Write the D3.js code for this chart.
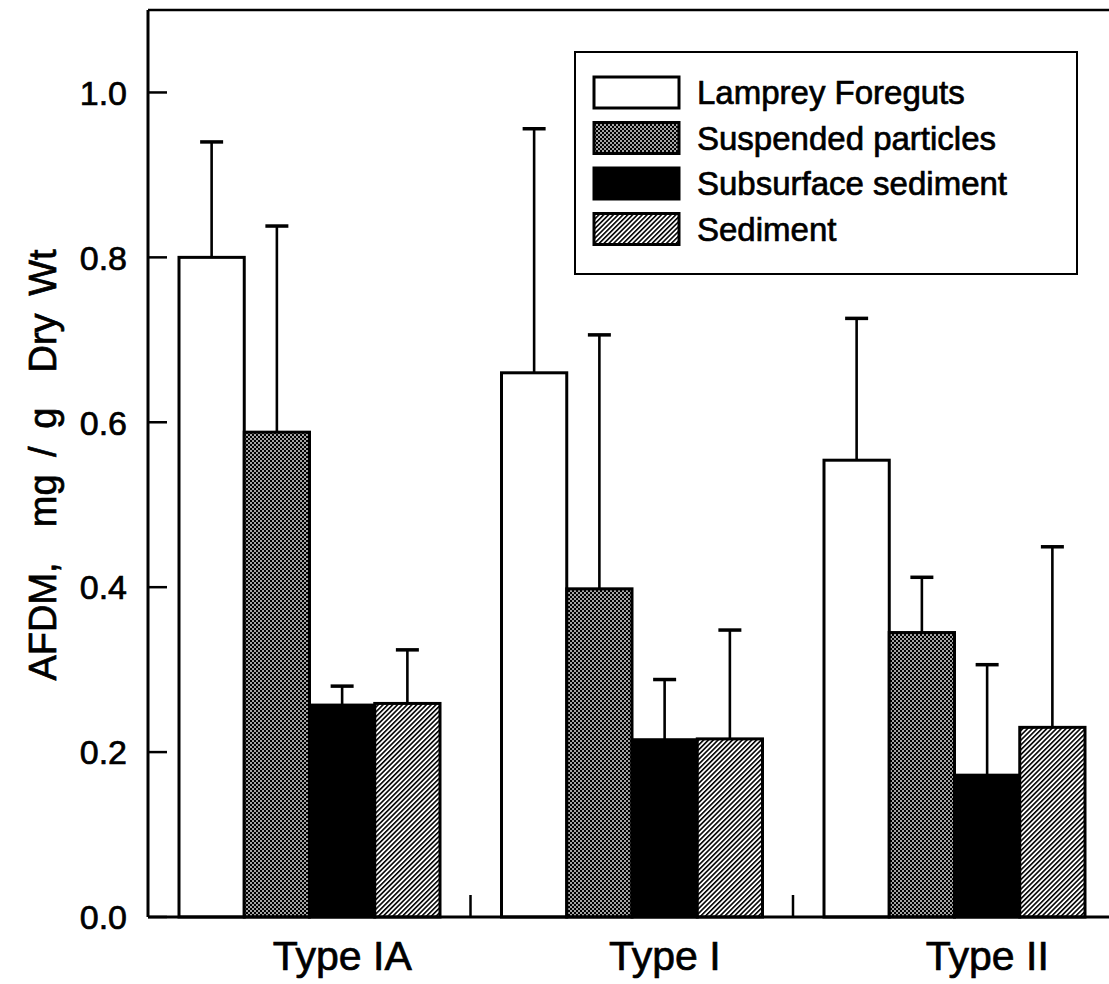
<!DOCTYPE html>
<html>
<head>
<meta charset="utf-8">
<script src="https://cdn.jsdelivr.net/npm/d3@7"></script>
<style>
  html, body { margin: 0; padding: 0; background: #fff; }
  svg { display: block; font-family: "Liberation Sans", Arial, sans-serif; }
  text { stroke: #000; stroke-width: 0.7px; }
</style>
</head>
<body>
<svg id="chart" width="1109" height="984"></svg>
<script>
// ---- data ----
const categories = ["Type IA", "Type I", "Type II"];
const seriesNames = ["Lamprey Foreguts", "Suspended particles", "Subsurface sediment", "Sediment"];
const lampreyMean = [0.800, 0.660, 0.554];
const lampreyErr  = [0.940, 0.956, 0.726];
const suspendedMean = [0.588, 0.398, 0.345];
const suspendedErr  = [0.838, 0.706, 0.412];
const subsurfaceMean = [0.257, 0.215, 0.172];
const subsurfaceErr  = [0.280, 0.288, 0.306];
const sedimentMean = [0.259, 0.216, 0.230];
const sedimentErr  = [0.324, 0.348, 0.449];
const yTicks = [0.0, 0.2, 0.4, 0.6, 0.8, 1.0];
const yLabel = "AFDM,  mg / g  Dry Wt";

const means = [lampreyMean, suspendedMean, subsurfaceMean, sedimentMean];
const errs = [lampreyErr, suspendedErr, subsurfaceErr, sedimentErr];
const fills = ["#fff", "url(#dots)", "#000", "url(#hatch)"];

const svg = d3.select("#chart");
const L = 148, T = 10, B = 917, groupW = 322.5;
const R = L + groupW * categories.length;

// patterns
const defs = svg.append("defs");
const dots = defs.append("pattern").attr("id", "dots").attr("patternUnits", "userSpaceOnUse")
  .attr("width", 4).attr("height", 4);
dots.append("rect").attr("width", 4).attr("height", 4).attr("fill", "#000");
dots.append("rect").attr("x", 0.2).attr("y", 0.2).attr("width", 1.6).attr("height", 1.6).attr("fill", "#fff");
dots.append("rect").attr("x", 2.2).attr("y", 2.2).attr("width", 1.6).attr("height", 1.6).attr("fill", "#fff");
const hatch = defs.append("pattern").attr("id", "hatch").attr("patternUnits", "userSpaceOnUse")
  .attr("width", 3.4).attr("height", 10).attr("patternTransform", "rotate(45)");
hatch.append("rect").attr("width", 3.4).attr("height", 10).attr("fill", "#fff");
hatch.append("line").attr("x1", 0.8).attr("x2", 0.8).attr("y1", 0).attr("y2", 10)
  .attr("stroke", "#000").attr("stroke-width", 1.6);

// scales
const y = d3.scaleLinear().domain([0, 1.1]).range([B, T]);
const x0 = d3.scaleBand().domain(categories).range([L, R]).padding(0);
const x1 = d3.scaleBand().domain(seriesNames).range([31, 292]).padding(0);

// bars
const data = [];
categories.forEach((c, ci) => seriesNames.forEach((s, si) => {
  data.push({c, s, si, v: means[si][ci], e: errs[si][ci]});
}));

const g = svg.append("g");
const eb = g.selectAll(".err").data(data).join("g");
eb.append("line")
  .attr("x1", d => x0(d.c) + x1(d.s) + x1.bandwidth() / 2)
  .attr("x2", d => x0(d.c) + x1(d.s) + x1.bandwidth() / 2)
  .attr("y1", d => y(d.v)).attr("y2", d => y(d.e))
  .attr("stroke", "#000").attr("stroke-width", 2.6);
eb.append("line")
  .attr("x1", d => x0(d.c) + x1(d.s) + x1.bandwidth() / 2 - 11.5)
  .attr("x2", d => x0(d.c) + x1(d.s) + x1.bandwidth() / 2 + 11.5)
  .attr("y1", d => y(d.e)).attr("y2", d => y(d.e))
  .attr("stroke", "#000").attr("stroke-width", 3.5);

g.selectAll(".bar").data(data).join("rect")
  .attr("x", d => x0(d.c) + x1(d.s))
  .attr("y", d => y(d.v))
  .attr("width", x1.bandwidth())
  .attr("height", d => y(0) - y(d.v))
  .attr("fill", d => fills[d.si])
  .attr("stroke", "#000").attr("stroke-width", 3);

// frame: left, top, bottom, right
svg.append("line").attr("x1", L).attr("x2", L).attr("y1", T).attr("y2", B).attr("stroke", "#000").attr("stroke-width", 3);
svg.append("line").attr("x1", L).attr("x2", R).attr("y1", T).attr("y2", T).attr("stroke", "#000").attr("stroke-width", 2.5);
svg.append("line").attr("x1", L).attr("x2", R).attr("y1", B).attr("y2", B).attr("stroke", "#000").attr("stroke-width", 3);
svg.append("line").attr("x1", R).attr("x2", R).attr("y1", T).attr("y2", B).attr("stroke", "#000").attr("stroke-width", 3);

// y axis ticks + labels
const yAxis = svg.append("g");
yAxis.selectAll("line").data(yTicks).join("line")
  .attr("x1", L).attr("x2", L + 19)
  .attr("y1", d => y(d)).attr("y2", d => y(d))
  .attr("stroke", "#000").attr("stroke-width", 2.5);
yAxis.selectAll("text").data(yTicks).join("text")
  .attr("x", 127).attr("y", d => y(d)).attr("dy", "0.36em")
  .attr("text-anchor", "end").attr("font-size", 34).attr("fill", "#000")
  .text(d => d3.format(".1f")(d));

// x ticks at group boundaries
svg.append("g").selectAll("line").data(categories.slice(1)).join("line")
  .attr("x1", d => x0(d)).attr("x2", d => x0(d))
  .attr("y1", B).attr("y2", B - 22)
  .attr("stroke", "#000").attr("stroke-width", 2.5);

// x labels
svg.append("g").selectAll("text").data(categories).join("text")
  .attr("x", d => x0(d) + x0.bandwidth() / 2 + 33)
  .attr("y", 970)
  .attr("text-anchor", "middle").attr("font-size", 41).attr("fill", "#000")
  .text(d => d);

// y label
svg.append("text")
  .attr("transform", "translate(56,465) rotate(-90)")
  .attr("text-anchor", "middle").attr("font-size", 38).attr("fill", "#000")
  .attr("word-spacing", 7)
  .style("white-space", "pre")
  .text(yLabel);

// legend
const leg = svg.append("g");
leg.append("rect").attr("x", 575).attr("y", 52).attr("width", 502).attr("height", 222)
  .attr("fill", "#fff").attr("stroke", "#000").attr("stroke-width", 2);
const ly = d3.scaleBand().domain(seriesNames).range([77, 77 + 45.5 * 4]).padding(0);
leg.selectAll(".sw").data(seriesNames).join("rect")
  .attr("x", 594).attr("y", d => ly(d)).attr("width", 85).attr("height", 31)
  .attr("fill", (d, i) => fills[i]).attr("stroke", "#000").attr("stroke-width", 3);
leg.selectAll("text").data(seriesNames).join("text")
  .attr("x", 697).attr("y", d => ly(d) + 15.5).attr("dy", "0.36em")
  .attr("font-size", 33).attr("fill", "#000")
  .text(d => d);
</script>
</body>
</html>
